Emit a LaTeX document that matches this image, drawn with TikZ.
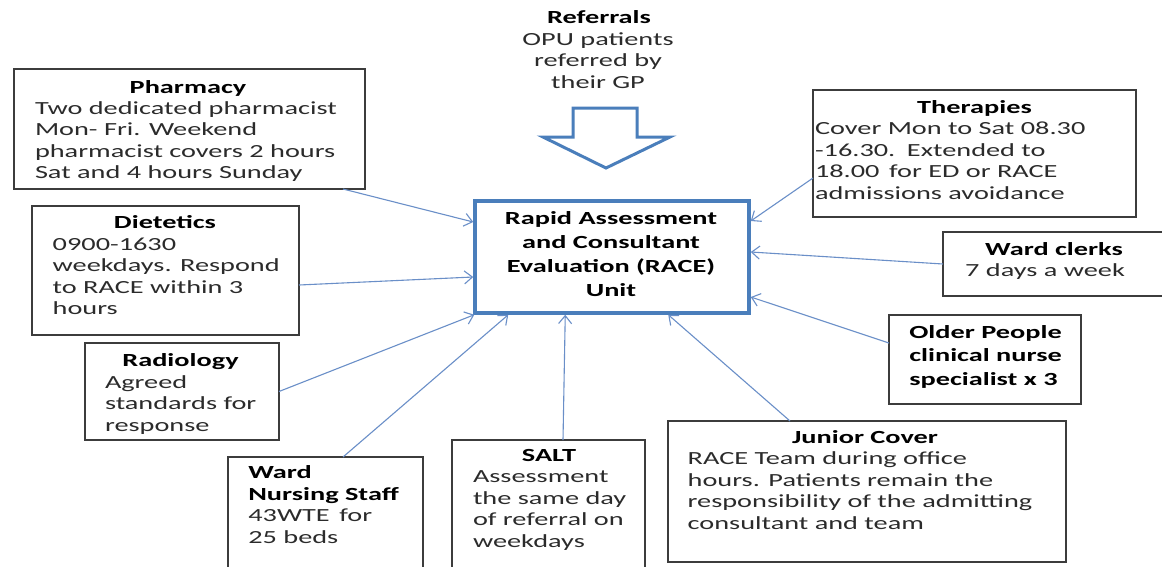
\documentclass[tikz,border=0pt]{standalone}
\usepackage{fontspec}
\setmainfont{Carlito}[FakeStretch=1.53]
\usetikzlibrary{arrows.meta}
\definecolor{linkblue}{HTML}{6A8FC8}
\definecolor{raceblue}{HTML}{4A7EBB}
\definecolor{boxgray}{HTML}{3C3C3C}
\definecolor{inkbody}{HTML}{2B2B2B}

\begin{document}
\begin{tikzpicture}[x=1pt,y=-1pt,
  every node/.style={inner sep=0pt, outer sep=0pt},
  infobox/.style={draw=boxgray, line width=1.6pt, fill=white},
  racebox/.style={draw=raceblue, line width=3.5pt, fill=white, outer sep=1.75pt},
  head/.style={anchor=base, font=\fontsize{18.5}{21.5}\selectfont\bfseries, text=black, align=center},
  body/.style={anchor=base west, font=\fontsize{18.5}{21.5}\selectfont, text=inkbody, align=left},
  cbody/.style={anchor=base, font=\fontsize{18.5}{21.5}\selectfont, text=inkbody, align=center},
  link/.style={draw=linkblue, line width=1.1pt, -{Straight Barb[length=8pt,width=13pt]}},
  refarrow/.style={draw=raceblue, line width=3pt, fill=white, line join=miter},
]
\clip (0,0) rectangle (1162,566);
\fill[white] (0,0) rectangle (1162,566);

% frames
\node[infobox, minimum width=351pt, minimum height=120pt] (pharm)  at (189.5,129)   {};
\node[infobox, minimum width=267pt, minimum height=129pt] (diet)   at (165.5,270.5) {};
\node[infobox, minimum width=194pt, minimum height=97pt]  (radio)  at (182,391.5)   {};
\node[infobox, minimum width=195pt, minimum height=133pt] (nurse)  at (325.5,523.5) {};
\node[infobox, minimum width=193pt, minimum height=150pt] (salt)   at (548.5,515)   {};
\node[infobox, minimum width=398pt, minimum height=141pt] (junior) at (867,491.5)   {};
\node[infobox, minimum width=192pt, minimum height=89pt]  (older)  at (985,359.5)   {};
\node[infobox, minimum width=237pt, minimum height=64pt]  (clerks) at (1061.5,264)  {};
\node[infobox, minimum width=323pt, minimum height=127pt] (ther)   at (974.5,153.5) {};
\node[racebox, minimum width=274pt, minimum height=112pt] (race)   at (612,257)     {};

% referral block arrow
\draw[refarrow] (573,108) -- (637,108) -- (637,137) -- (670,137) -- (606,168)
  -- (543,137) -- (573,137) -- cycle;

% texts (multi-line nodes sit on the baseline of their last line)
\node[head] (refH) at (599,23.3) {Referrals};
\node[cbody] (refB) at (598,88.3) {OPU patients\\referred by\\their GP};

\node[head, text=black, font=\fontsize{18.5}{24.2}\selectfont\bfseries] (raceT) at (611,296.7)
  {Rapid Assessment\\and Consultant\\Evaluation (RACE)\\Unit};

\node[head] (pharmH) at (188,93.3) {Pharmacy};
\node[body] (pharmB) at (35,178.8) {Two dedicated pharmacist\\Mon- Fri. Weekend\\pharmacist covers 2 hours\\Sat and 4 hours Sunday};

\node[head] (dietH) at (165,228.3) {Dietetics};
\node[body] (dietB) at (52.7,314.5) {0900-1630\\weekdays. Respond\\to RACE within 3\\hours};

\node[head] (radioH) at (180.5,366.7) {Radiology};
\node[body] (radioB) at (105,431) {Agreed\\standards for\\response};

\node[body, font=\fontsize{18.5}{21.5}\selectfont\bfseries, text=black] (nurseH) at (248.3,500) {Ward\\Nursing Staff};
\node[body] (nurseB) at (248.3,543) {43WTE\, for\\25 beds};

\node[head] (saltH) at (549,461.7) {SALT};
\node[body] (saltB) at (473,547) {Assessment\\the same day\\of referral on\\weekdays};

\node[head] (juniorH) at (865,443.3) {Junior Cover};
\node[body] (juniorB) at (687.7,529) {RACE Team during office\\hours. Patients remain the\\responsibility of the admitting\\consultant and team};

\node[body, font=\fontsize{18.5}{23.3}\selectfont\bfseries, text=black] (olderT) at (909.3,385) {Older People\\clinical nurse\\specialist x 3};

\node[head] (clerksH) at (1054,255) {Ward clerks};
\node[cbody] (clerksB) at (1045,276.7) {7 days a week};

\node[head] (therH) at (974.5,113.3) {Therapies};
\node[body] (therB) at (815,199) {Cover Mon to Sat 08.30\\-16.30.\, Extended to\\18.00\, for ED or RACE\\admissions avoidance};

% connectors into the unit
\draw[link] ([xshift=-22pt]pharm.south east) -- ([yshift=35pt]race.west);
\draw[link] ([yshift=-14.5pt]diet.east) -- ([yshift=-20pt]race.west);
\draw[link] (radio.east) -- ([xshift=1pt]race.south west);
\draw[link] ([xshift=17.5pt]nurse.north) -- ([xshift=35pt]race.south west);
\draw[link] ([xshift=14.5pt]salt.north) -- ([xshift=92pt]race.south west);
\draw[link] ([xshift=-77pt]junior.north) -- ([xshift=195pt]race.south west);
\draw[link] ([yshift=16.5pt]older.west) -- ([yshift=-40pt]race.east);
\draw[link] (clerks.west) -- ([yshift=5pt]race.east);
\draw[link] ([yshift=-24.5pt]ther.west) -- ([yshift=36pt]race.east);
\end{tikzpicture}
\end{document}
